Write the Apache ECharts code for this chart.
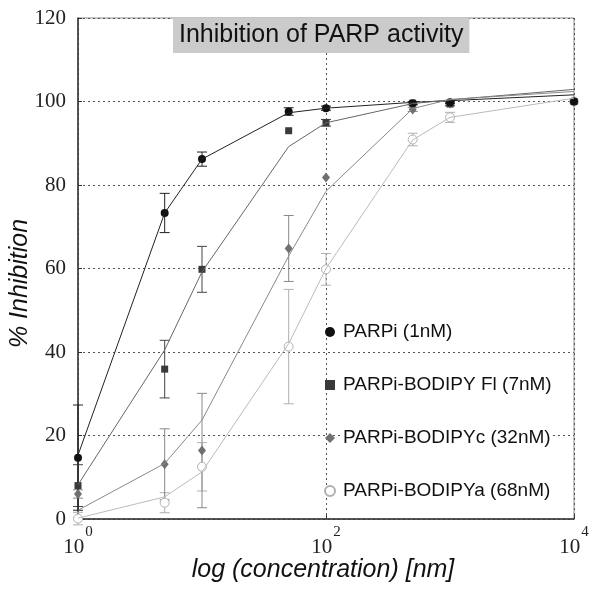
<!DOCTYPE html>
<html>
<head>
<meta charset="utf-8">
<script src="https://cdn.jsdelivr.net/npm/echarts@6/dist/echarts.min.js"></script>
<style>
  html, body { margin: 0; padding: 0; background: #fff; }
  #main { width: 601px; height: 590px; }
</style>
</head>
<body>
<div id="main"></div>
<script>
// concentrations [nM]
var conc = [1, 5, 10, 50, 100, 500, 1000, 10000];

// measured % inhibition (mean) and error
var parpiMean = [14.7, 73.3, 86.2, 97.6, 98.4, 99.6, 99.8, 100];
var parpiErr  = [12.6, 4.7, 1.7, 0.9, 0.5, 0.4, 0.3, 0];
var flMean    = [8.0, 35.9, 59.8, 93.0, 94.9, 99.6, 99.4, 100];
var flErr     = [5.0, 6.9, 5.5, 0, 0.8, 0.3, 0.3, 0];
var cMean     = [6.0, 13.1, 16.4, 64.8, 81.8, 98.1, 99.5, 100];
var cErr      = [1.0, 8.5, 13.7, 7.9, 0, 0.5, 0.6, 0];
var aMean     = [0.1, 3.9, 12.5, 41.3, 59.8, 90.9, 96.2, 100];
var aErr      = [1.5, 2.4, 5.8, 13.7, 3.8, 1.5, 1.2, 0];

// fitted curves
var parpiFit = [15.3, 73.3, 86.2, 97.3, 98.4, 99.8, 100.2, 101.6];
var flFit    = [8.2, 40.5, 59.2, 89.2, 94.9, 99.5, 100.4, 102.9];
var cFit     = [2.1, 13.3, 23.7, 63.0, 78.5, 98.3, 100.5, 102.4];
var aFit     = [0.2, 5.3, 11.3, 42.0, 60.0, 90.8, 96.2, 100.8];

var names = ['PARPi (1nM)', 'PARPi-BODIPY Fl (7nM)', 'PARPi-BODIPYc (32nM)', 'PARPi-BODIPYa (68nM)'];
var yTicks = [0, 20, 40, 60, 80, 100, 120];

function pairs(vals) {
    return conc.map(function (c, i) { return [c, vals[i]]; });
}
function bars(mean, err) {
    var out = [];
    conc.forEach(function (c, i) {
        if (err[i] > 0) out.push([c, mean[i] - err[i], mean[i] + err[i]]);
    });
    return out;
}
function errSeries(mean, err, color) {
    return {
        type: 'custom',
        data: bars(mean, err),
        encode: { x: 0, y: [1, 2] },
        silent: true,
        renderItem: function (params, api) {
            var x = api.value(0);
            var top = api.coord([x, api.value(2)]);
            var bot = api.coord([x, api.value(1)]);
            var w = 5;
            var st = { stroke: color, lineWidth: 1 };
            return {
                type: 'group',
                children: [
                    { type: 'line', shape: { x1: top[0], y1: top[1], x2: bot[0], y2: bot[1] }, style: st },
                    { type: 'line', shape: { x1: top[0] - w, y1: top[1], x2: top[0] + w, y2: top[1] }, style: st },
                    { type: 'line', shape: { x1: bot[0] - w, y1: bot[1], x2: bot[0] + w, y2: bot[1] }, style: st }
                ]
            };
        }
    };
}
function fitSeries(vals, color) {
    return {
        type: 'line', data: pairs(vals), symbol: 'none', silent: true,
        lineStyle: { color: color, width: 1 }
    };
}

var myChart = echarts.init(document.getElementById('main'));

var option = {
    animation: false,
    title: {
        text: 'Inhibition of PARP activity',
        left: 173, top: 18,
        padding: [5, 6, 5, 6],
        backgroundColor: '#cbcbcb',
        textStyle: { fontFamily: 'Liberation Sans', fontSize: 25, fontWeight: 'normal', color: '#111' }
    },
    legend: {
        data: names,
        orient: 'vertical',
        left: 319, top: 317,
        itemWidth: 10, itemHeight: 10,
        itemGap: 33,
        textStyle: {
            fontFamily: 'Liberation Sans', fontSize: 19, lineHeight: 20,
            color: '#111', backgroundColor: '#fff', padding: [0, 2, 0, 3]
        }
    },
    grid: {
        left: 78, right: 27, top: 18, bottom: 71,
        outerBoundsMode: 'none',
        show: true, borderColor: '#888', borderWidth: 1
    },
    xAxis: {
        type: 'log', logBase: 10, min: 1, max: 10000, interval: 2,
        name: 'log (concentration) [nm]',
        nameLocation: 'middle', nameGap: 39, nameMoveOverlap: false,
        nameTextStyle: {
            fontFamily: 'Liberation Sans', fontSize: 25, fontStyle: 'italic', color: '#111',
            padding: [0, 6, 0, 0]
        },
        axisLine: { lineStyle: { color: '#333', width: 1.5 } },
        axisTick: { inside: true, length: 4, lineStyle: { color: '#333' } },
        minorTick: { show: false },
        splitLine: { show: true, lineStyle: { color: '#555', type: [2, 3], width: 1 } },
        axisLabel: {
            margin: 6,
            formatter: function (v) {
                var e = Math.round(Math.log(v) / Math.LN10);
                return '{b|10}{s|' + e + '}';
            },
            rich: {
                b: { fontFamily: 'Liberation Serif', fontSize: 21, color: '#222' },
                s: { fontFamily: 'Liberation Serif', fontSize: 15, color: '#222', padding: [0, 0, 30, 1] }
            }
        }
    },
    yAxis: {
        type: 'value', min: 0, max: 120, interval: 20,
        name: '% Inhibition',
        nameLocation: 'middle', nameGap: 45, nameRotate: 90, nameMoveOverlap: false,
        nameTextStyle: {
            fontFamily: 'Liberation Sans', fontSize: 25, fontStyle: 'italic', color: '#111',
            padding: [0, 30, 0, 0]
        },
        axisLine: { show: true, lineStyle: { color: '#333', width: 1.5 } },
        axisTick: { show: true, inside: true, length: 4, lineStyle: { color: '#333' } },
        splitLine: { show: true, lineStyle: { color: '#555', type: [2, 3], width: 1 } },
        axisLabel: {
            margin: 12,
            fontFamily: 'Liberation Serif', fontSize: 21, color: '#222',
            formatter: function (v) { return yTicks.indexOf(v) >= 0 ? String(v) : ''; }
        }
    },
    series: [
        fitSeries(parpiFit, '#222'),
        fitSeries(flFit, '#666'),
        fitSeries(cFit, '#888'),
        fitSeries(aFit, '#bbb'),
        errSeries(aMean, aErr, '#b0b0b0'),
        errSeries(cMean, cErr, '#888'),
        errSeries(flMean, flErr, '#444'),
        errSeries(parpiMean, parpiErr, '#222'),
        {
            name: names[3], type: 'scatter', data: pairs(aMean),
            symbol: 'circle', symbolSize: 9,
            itemStyle: { color: '#fff', borderColor: '#b0b0b0', borderWidth: 1, opacity: 1 }
        },
        {
            name: names[2], type: 'scatter', data: pairs(cMean),
            symbol: 'diamond', symbolSize: [8, 10], itemStyle: { color: '#707070', opacity: 1 }
        },
        {
            name: names[1], type: 'scatter', data: pairs(flMean),
            symbol: 'rect', symbolSize: 7, itemStyle: { color: '#3a3a3a', opacity: 1 }
        },
        {
            name: names[0], type: 'scatter', data: pairs(parpiMean),
            symbol: 'circle', symbolSize: 8, itemStyle: { color: '#111', opacity: 1 }
        }
    ]
};

myChart.setOption(option);
</script>
</body>
</html>
